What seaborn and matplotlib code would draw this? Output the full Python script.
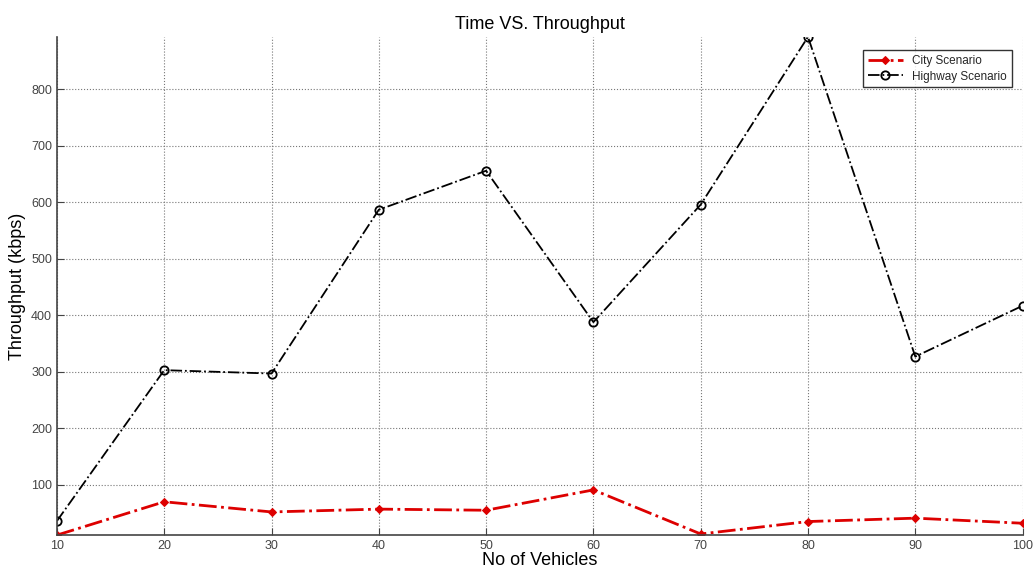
import pandas as pd
import matplotlib
matplotlib.use('Agg')
import matplotlib.pyplot as plt
import seaborn as sns

vehicles = [10, 20, 30, 40, 50, 60, 70, 80, 90, 100]
city = [11, 70, 52, 57, 55, 91, 13, 35, 41, 32]
highway = [36, 303, 297, 587, 656, 388, 596, 893, 327, 417]

df = pd.DataFrame({"vehicles": vehicles * 2,
                   "throughput": city + highway,
                   "scenario": ["City Scenario"] * len(city) + ["Highway Scenario"] * len(highway)})

sns.set_style("white")
plt.rcParams['font.family'] = ['Liberation Sans', 'DejaVu Sans']

fig = plt.figure(figsize=(10.35, 5.76), dpi=100)
ax = fig.add_axes([0.055, 0.071, 0.933, 0.865])

sns.lineplot(data=df[df.scenario == "City Scenario"], x="vehicles", y="throughput",
             color="#dd0000", linestyle="-.", linewidth=2, marker="D", markersize=4.5,
             markeredgecolor="#dd0000", legend=False, ax=ax)
sns.lineplot(data=df[df.scenario == "Highway Scenario"], x="vehicles", y="throughput",
             color="black", linestyle="-.", linewidth=1.3, marker="o", markersize=6,
             markerfacecolor="none", markeredgecolor="black", markeredgewidth=1.3,
             legend=False, ax=ax)

ax.set_xlim(10, 100)
ax.set_ylim(min(city), max(highway))
ax.set_xticks(vehicles)
ax.set_yticks([100, 200, 300, 400, 500, 600, 700, 800])
ax.grid(True, linestyle=":", color="#777777", linewidth=0.8)
ax.tick_params(direction="in", length=5, labelsize=9, colors="#444444", left=True, bottom=True)
for s in ["top", "right"]:
    ax.spines[s].set_visible(False)
for s in ["left", "bottom"]:
    ax.spines[s].set_color("#444444")
    ax.spines[s].set_linewidth(1.2)

ax.set_title("Time VS. Throughput", fontsize=13, color="black")
ax.set_xlabel("No of Vehicles", fontsize=13, labelpad=0, fontweight="medium", color="black")
ax.set_ylabel("Throughput (kbps)", fontsize=13, labelpad=4, fontweight="medium", color="black")

leg = ax.legend(handles=ax.lines[:2], labels=["City Scenario", "Highway Scenario"],
                loc="upper right", fontsize=8.5, frameon=True, fancybox=False,
                edgecolor="black", handlelength=3, borderpad=0.4, labelspacing=0.3,
                bbox_to_anchor=(0.995, 0.985))
leg.get_frame().set_linewidth(1.0)

fig.savefig("out.png", dpi=100)
